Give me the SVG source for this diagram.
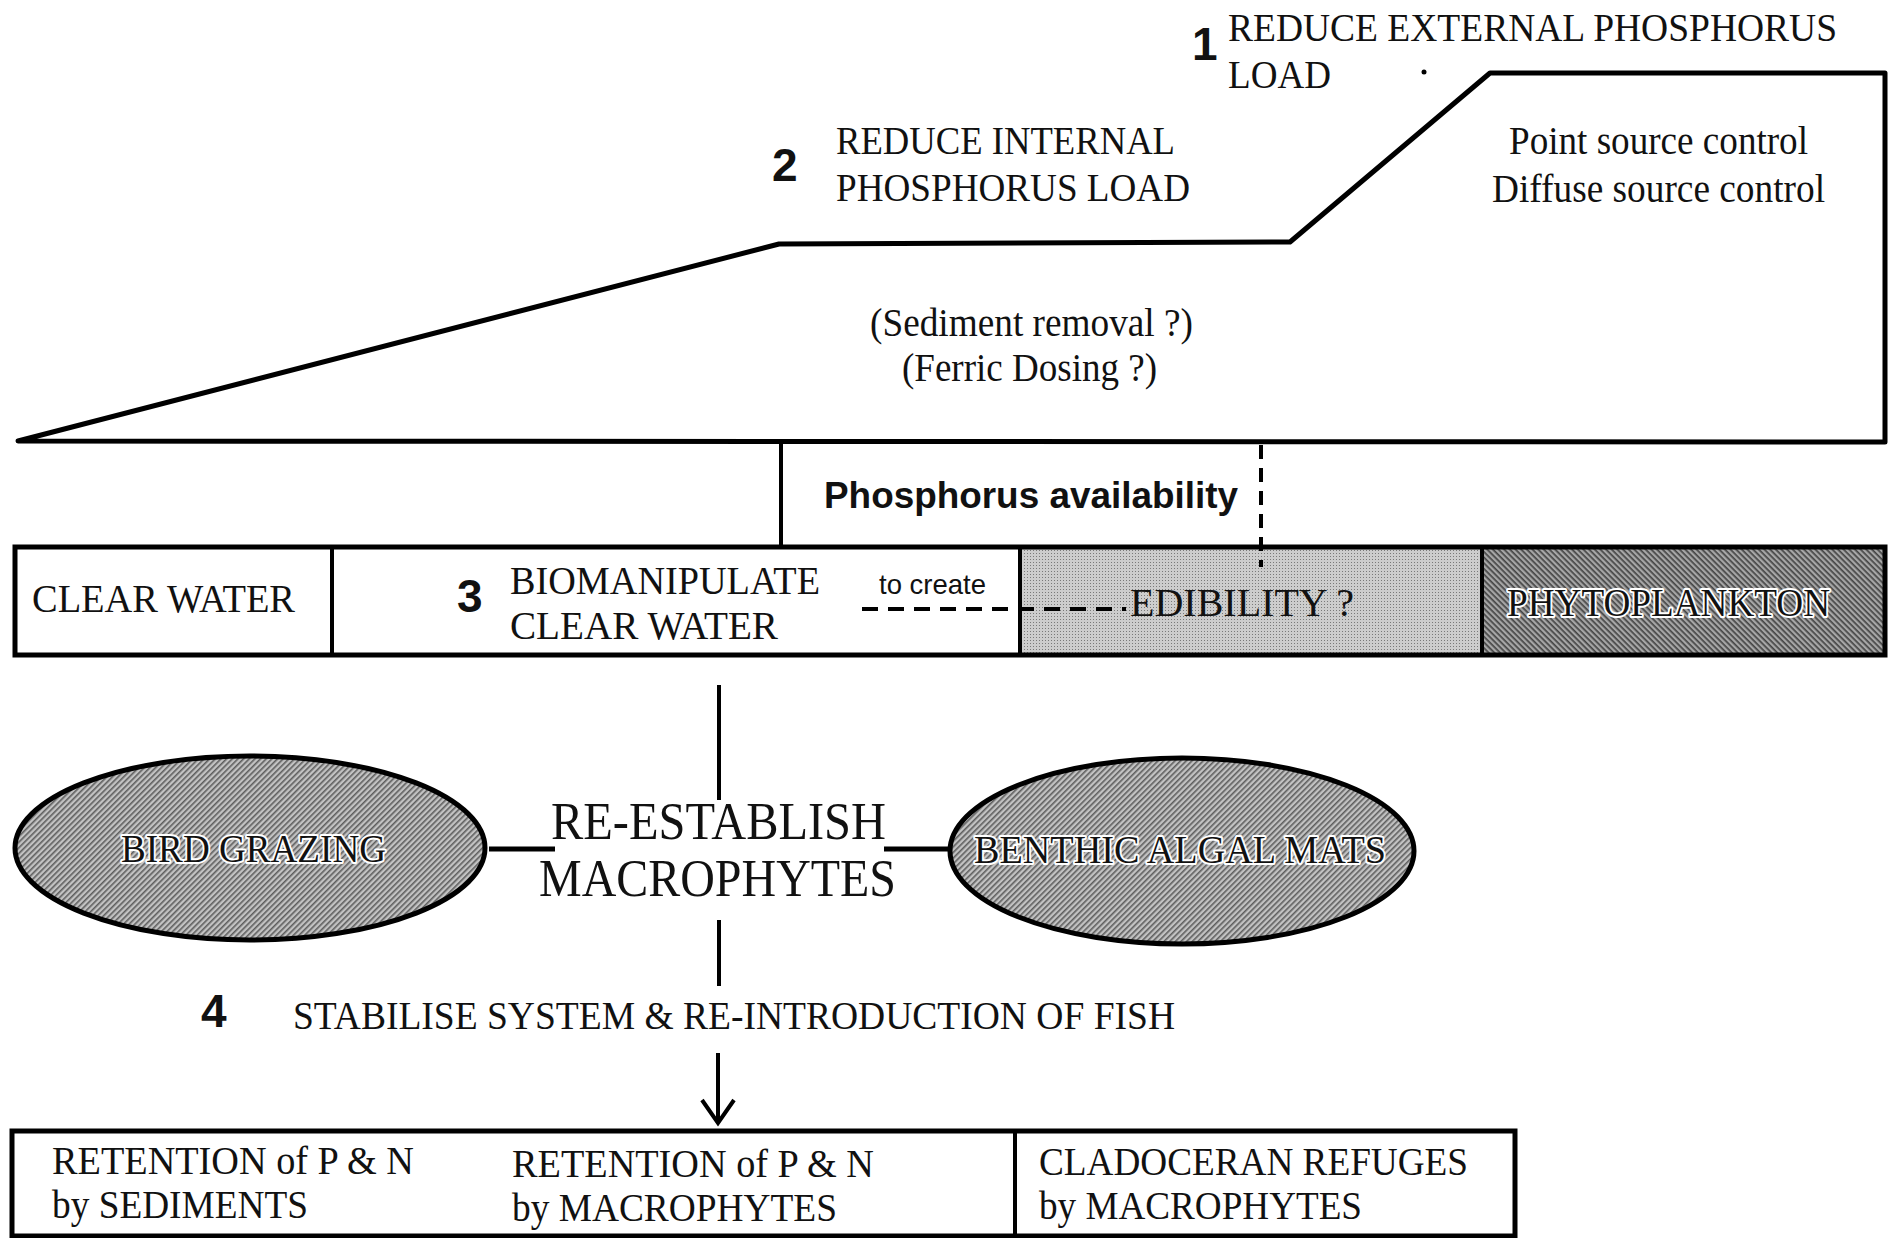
<svg xmlns="http://www.w3.org/2000/svg" width="1890" height="1238" viewBox="0 0 1890 1238">
<style>
  .t { font-family: "Liberation Serif", "Times New Roman", serif; font-size: 40px; fill: #111; }
  .big { font-size: 52px; }
  .num { font-family: "Liberation Sans", Arial, sans-serif; font-weight: bold; font-size: 46px; fill: #111; }
  .sans { font-family: "Liberation Sans", Arial, sans-serif; fill: #111; }
  .halo { stroke: #fff; stroke-width: 4px; paint-order: stroke; stroke-linejoin: round; }
  .line { stroke: #000; fill: none; stroke-linecap: butt; }
  .box { stroke: #000; stroke-width: 5; }
</style>
<defs>
  <pattern id="stip" width="3" height="3" patternUnits="userSpaceOnUse">
    <rect width="3" height="3" fill="#cdcdcd"/>
    <rect x="1" y="1" width="1" height="1" fill="#7a7a7a"/>
  </pattern>
  <pattern id="hatchR" width="4" height="4" patternUnits="userSpaceOnUse" patternTransform="rotate(45)">
    <rect width="4" height="4" fill="#a6a6a6"/>
    <rect width="4" height="1.7" fill="#454545"/>
  </pattern>
  <pattern id="hatchL" width="4" height="4" patternUnits="userSpaceOnUse" patternTransform="rotate(-45)">
    <rect width="4" height="4" fill="#c2c2c2"/>
    <rect width="4" height="1.6" fill="#5e5e5e"/>
  </pattern>
</defs>
<rect width="1890" height="1238" fill="#fff"/>

<g id="node-phosphorus-load">
  <polygon points="18,441 779,244 1290,242 1490,73 1885,73 1885,442" fill="#fff" stroke="#000" stroke-width="5" stroke-linejoin="round"/>
  <circle cx="1424" cy="72" r="2.5" fill="#000"/>
</g>

<g id="node-step1">
  <text class="num" x="1192" y="60" font-size="44">1</text>
  <text class="t" x="1228" y="41" textLength="609" lengthAdjust="spacingAndGlyphs">REDUCE EXTERNAL PHOSPHORUS</text>
  <text class="t" x="1228" y="88" textLength="103" lengthAdjust="spacingAndGlyphs">LOAD</text>
</g>
<g id="node-external-controls">
  <text class="t" x="1509" y="154" textLength="299" lengthAdjust="spacingAndGlyphs">Point source control</text>
  <text class="t" x="1492" y="202" textLength="333" lengthAdjust="spacingAndGlyphs">Diffuse source control</text>
</g>
<g id="node-step2">
  <text class="num" x="772" y="181">2</text>
  <text class="t" x="836" y="154" textLength="339" lengthAdjust="spacingAndGlyphs">REDUCE INTERNAL</text>
  <text class="t" x="836" y="201" textLength="354" lengthAdjust="spacingAndGlyphs">PHOSPHORUS LOAD</text>
</g>
<g id="node-internal-controls">
  <text class="t" x="870" y="336" textLength="323" lengthAdjust="spacingAndGlyphs">(Sediment removal ?)</text>
  <text class="t" x="902" y="381" textLength="255" lengthAdjust="spacingAndGlyphs">(Ferric Dosing ?)</text>
</g>
<g id="node-phosphorus-availability">
  <text class="sans" x="824" y="508" font-size="36" font-weight="bold" textLength="414" lengthAdjust="spacingAndGlyphs">Phosphorus availability</text>
</g>

<g id="node-bar">
  <rect x="1020" y="547" width="462" height="108" fill="url(#stip)"/>
  <rect x="1482" y="547" width="403" height="108" fill="url(#hatchR)"/>
  <rect x="15" y="547" width="1870" height="108" fill="none" class="box"/>
  <line x1="332" y1="547" x2="332" y2="655" stroke="#000" stroke-width="4"/>
  <line x1="1020" y1="547" x2="1020" y2="655" stroke="#000" stroke-width="4"/>
  <line x1="1482" y1="547" x2="1482" y2="655" stroke="#000" stroke-width="4"/>
</g>
<g id="node-clear-water">
  <text class="t" x="32" y="612" textLength="263" lengthAdjust="spacingAndGlyphs">CLEAR WATER</text>
</g>
<g id="node-step3">
  <text class="num" x="457" y="612">3</text>
  <text class="t" x="510" y="594" textLength="310" lengthAdjust="spacingAndGlyphs">BIOMANIPULATE</text>
  <text class="t" x="510" y="639" textLength="268" lengthAdjust="spacingAndGlyphs">CLEAR WATER</text>
  <text class="sans" x="879" y="594" font-size="28" textLength="107" lengthAdjust="spacingAndGlyphs">to create</text>
</g>
<g id="node-edibility">
  <text class="t" x="1130" y="616" textLength="224" lengthAdjust="spacingAndGlyphs">EDIBILITY ?</text>
</g>
<g id="node-phytoplankton">
  <text class="t halo" x="1507" y="616" textLength="323" lengthAdjust="spacingAndGlyphs">PHYTOPLANKTON</text>
</g>

<g id="node-bird-grazing">
  <ellipse cx="250" cy="848" rx="235" ry="92" fill="url(#hatchL)" stroke="#000" stroke-width="5"/>
  <text class="t halo" x="121" y="862" textLength="265" lengthAdjust="spacingAndGlyphs">BIRD GRAZING</text>
</g>
<g id="node-macrophytes">
  <text class="t big" x="551" y="839" textLength="335" lengthAdjust="spacingAndGlyphs">RE-ESTABLISH</text>
  <text class="t big" x="539" y="896" textLength="357" lengthAdjust="spacingAndGlyphs">MACROPHYTES</text>
</g>
<g id="node-benthic">
  <ellipse cx="1182" cy="851" rx="232" ry="93" fill="url(#hatchL)" stroke="#000" stroke-width="5"/>
  <text class="t halo" x="974" y="863" textLength="412" lengthAdjust="spacingAndGlyphs">BENTHIC ALGAL MATS</text>
</g>

<g id="node-step4">
  <text class="num" x="201" y="1027">4</text>
  <text class="t" x="293" y="1029" textLength="882" lengthAdjust="spacingAndGlyphs">STABILISE SYSTEM &amp; RE-INTRODUCTION OF FISH</text>
</g>

<g id="node-outcomes">
  <rect x="12" y="1131" width="1503" height="105" fill="none" stroke="#000" stroke-width="5"/>
  <line x1="1015" y1="1131" x2="1015" y2="1238" stroke="#000" stroke-width="4"/>
  <text class="t" x="52" y="1174" textLength="362" lengthAdjust="spacingAndGlyphs">RETENTION of P &amp; N</text>
  <text class="t" x="52" y="1218" textLength="256" lengthAdjust="spacingAndGlyphs">by SEDIMENTS</text>
  <text class="t" x="512" y="1177" textLength="362" lengthAdjust="spacingAndGlyphs">RETENTION of P &amp; N</text>
  <text class="t" x="512" y="1221" textLength="325" lengthAdjust="spacingAndGlyphs">by MACROPHYTES</text>
  <text class="t" x="1039" y="1175" textLength="429" lengthAdjust="spacingAndGlyphs">CLADOCERAN REFUGES</text>
  <text class="t" x="1039" y="1219" textLength="323" lengthAdjust="spacingAndGlyphs">by MACROPHYTES</text>
</g>

<g id="connectors">
  <line class="line" x1="781" y1="443" x2="781" y2="546" stroke-width="4"/>
  <line class="line" x1="1261" y1="445" x2="1261" y2="567" stroke-width="4" stroke-dasharray="14 9"/>
  <line class="line" x1="862" y1="609" x2="1126" y2="609" stroke-width="4" stroke-dasharray="16 10"/>
  <line class="line" x1="719" y1="685" x2="719" y2="800" stroke-width="4"/>
  <line class="line" x1="489" y1="849" x2="555" y2="849" stroke-width="5"/>
  <line class="line" x1="884" y1="849" x2="950" y2="849" stroke-width="5"/>
  <line class="line" x1="719" y1="920" x2="719" y2="986" stroke-width="4"/>
  <line class="line" x1="718" y1="1053" x2="718" y2="1122" stroke-width="4"/>
  <polyline class="line" points="702,1100 718,1123 734,1100" stroke-width="4"/>
</g>
</svg>
